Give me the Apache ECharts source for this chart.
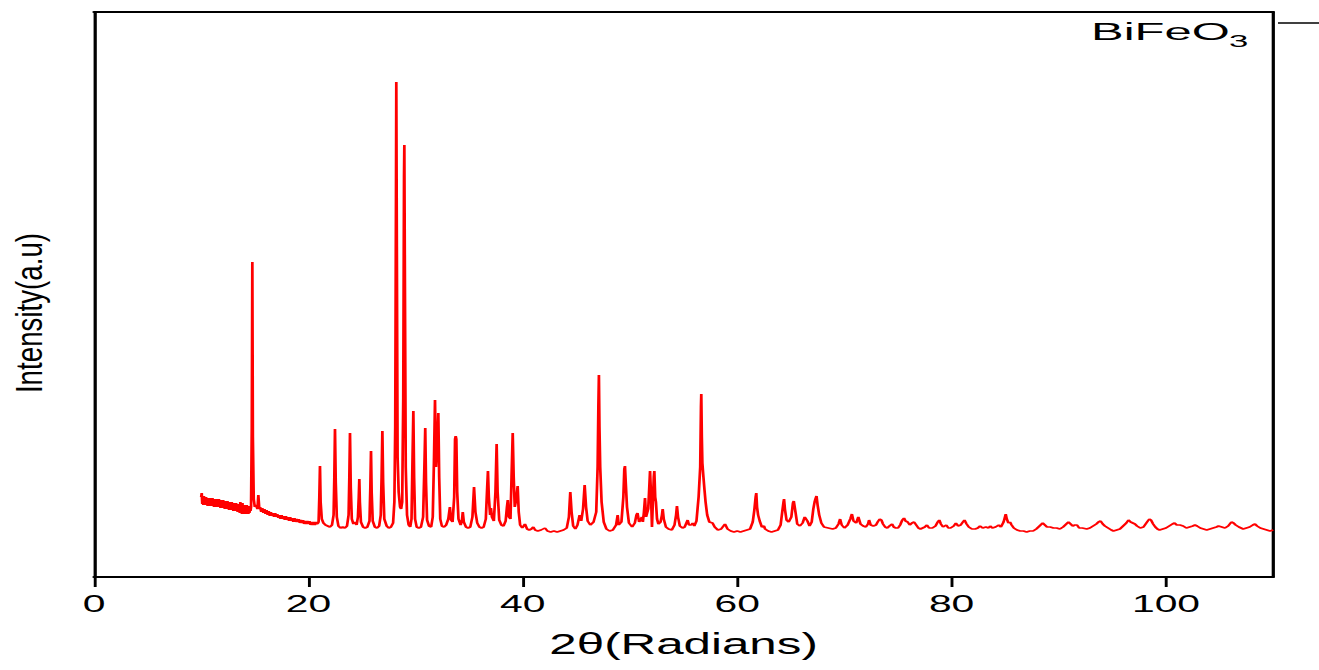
<!DOCTYPE html>
<html>
<head>
<meta charset="utf-8">
<script src="https://cdn.jsdelivr.net/npm/echarts@6/dist/echarts.min.js"></script>
<style>
html,body{margin:0;padding:0;background:#fff;overflow:hidden;}
#wrap{width:1319px;height:670px;overflow:hidden;position:relative;}
#chart{position:absolute;left:0;top:0;height:670px;transform-origin:0 0;}
</style>
</head>
<body>
<div id="wrap"><div id="chart"></div></div>
<script>
// ---- data ----
const seriesName = 'BiFeO3';
const legendMain = 'BiFeO';
const legendSub = '3';
const xAxisTitle = '2\u03b8(Radians)';
const yAxisTitle = 'Intensity(a.u)';
const xTickValues = [0, 20, 40, 60, 80, 100];
const xRange = [0, 110];
const yRange = [0, 565];
// [2theta, intensity (a.u.)]
const xrdPoints = [
[10.00,80],[10.05,84],[10.10,73],[10.15,79],[10.20,72],[10.25,81],[10.30,74],[10.35,78],[10.40,72],[10.45,80],
[10.50,73],[10.55,77],[10.60,71],[10.65,79],[10.70,73],[10.75,77],[10.80,71],[10.85,79],[10.90,72],[10.95,76],
[11.00,71],[11.05,79],[11.10,72],[11.15,75],[11.20,70],[11.25,78],[11.30,71],[11.35,76],[11.40,70],[11.45,78],
[11.50,71],[11.55,75],[11.60,70],[11.65,78],[11.70,71],[11.75,74],[11.80,69],[11.85,77],[11.90,70],[11.95,75],
[12.00,69],[12.05,77],[12.10,70],[12.15,73],[12.20,68],[12.25,76],[12.30,69],[12.35,73],[12.40,68],[12.45,76],
[12.50,69],[12.55,72],[12.60,67],[12.65,75],[12.70,68],[12.75,72],[12.80,67],[12.85,75],[12.90,68],[12.95,71],
[13.00,66],[13.05,74],[13.10,67],[13.15,71],[13.20,66],[13.25,74],[13.30,67],[13.35,70],[13.40,65],[13.45,73],
[13.50,66],[13.55,70],[13.60,64],[13.65,75],[13.70,65],[13.75,72],[13.80,63],[13.85,74],[13.90,64],[13.95,70],
[14.00,63],[14.05,72],[14.10,64],[14.15,69],[14.20,63],[14.25,72],[14.30,64],[14.35,69],[14.40,63],[14.45,71],
[14.50,64],[14.55,69],[14.60,66],
[14.65,70],[14.72,150],[14.77,315],[14.82,140],[14.9,78],[15.0,70],[15.1,72],[15.25,68],[15.33,82],[15.42,68],
[15.5,70],[15.6,65],[15.7,69],[15.8,64],[15.9,68],[16.0,63],[16.1,67],[16.2,62],[16.3,66],[16.4,61],
[16.5,65],[16.6,61],[16.7,64],[16.8,60],[16.9,64],[17.0,60],[17.1,63],[17.2,59],[17.3,62],[17.4,58],
[17.5,62],[17.6,58],[17.7,61],[17.8,57],[17.9,61],[18.0,57],[18.1,60],[18.2,56],[18.3,60],[18.4,56],
[18.5,59],[18.6,55],[18.7,59],[18.8,55],[18.9,58],[19.0,55],[19.1,58],[19.2,54],[19.3,57],[19.4,54],
[19.5,57],[19.6,53],[19.7,56],[19.8,53],[19.9,56],[20.0,53],[20.1,56],[20.2,52],[20.3,55],[20.4,52],
[20.5,55],[20.6,52],[20.7,55],[20.8,53],[20.9,54],
[20.95,55],[21.02,80],[21.08,111],[21.14,75],[21.25,58],[21.4,54],[21.6,52],[21.8,51],[22.0,50],[22.2,52],
[22.35,62],[22.42,100],[22.48,148],[22.55,95],[22.65,60],[22.8,51],[23.0,49],[23.2,50],[23.4,49],[23.6,51],
[23.75,62],[23.82,100],[23.88,144],[23.95,90],[24.05,58],[24.2,53],[24.35,55],[24.5,52],[24.62,60],[24.7,80],
[24.75,98],[24.8,75],[24.9,55],[25.1,50],[25.3,49],[25.5,50],[25.7,56],[25.78,90],[25.84,126],[25.9,85],
[26.0,56],[26.2,50],[26.4,49],[26.6,51],[26.75,62],[26.83,100],[26.9,146],[26.97,95],[27.08,58],[27.3,51],
[27.5,49],[27.7,50],[27.9,54],[28.02,75],[28.1,150],[28.17,380],[28.2,495],[28.25,330],[28.32,120],[28.42,85],
[28.55,70],[28.65,68],[28.75,75],[28.85,180],[28.92,400],[28.95,432],[29.0,300],[29.08,110],[29.2,62],[29.35,52],
[29.5,50],[29.62,58],[29.7,110],[29.79,166],[29.86,100],[29.95,58],[30.1,50],[30.3,49],[30.5,50],[30.7,60],
[30.82,110],[30.9,149],[30.97,95],[31.07,57],[31.25,51],[31.45,50],[31.6,60],[31.72,120],[31.81,177],[31.9,110],
[31.98,110],[32.05,140],[32.12,164],[32.2,100],[32.3,58],[32.45,51],[32.65,50],[32.85,52],[33.05,58],[33.2,70],
[33.3,57],[33.45,55],[33.6,80],[33.68,138],[33.74,141],[33.8,138],[33.88,85],[34.0,58],[34.2,52],[34.32,56],
[34.4,65],[34.5,55],[34.7,50],[34.9,49],[35.1,50],[35.3,60],[35.45,90],[35.58,65],[35.75,54],[35.95,50],
[36.15,49],[36.35,50],[36.55,58],[36.68,90],[36.75,106],[36.83,80],[36.95,62],[37.03,69],[37.12,60],[37.3,56],
[37.45,85],[37.56,133],[37.65,85],[37.8,57],[38.0,52],[38.2,51],[38.4,56],[38.52,70],[38.6,77],[38.7,60],
[38.85,58],[38.95,100],[39.06,144],[39.15,100],[39.25,70],[39.4,78],[39.52,91],[39.62,65],[39.75,52],[39.95,49],
[40.2,53],[40.4,48],[40.6,47],[40.8,48],[40.98,50],[41.15,47],[41.4,46],[41.7,47],[42.07,49],[42.3,46],
[42.6,45],[42.9,46],[43.2,45],[43.5,46],[43.8,47],[44.1,49],[44.3,60],[44.43,85],[44.55,65],[44.7,51],
[44.9,48],[45.1,52],[45.3,62],[45.45,56],[45.62,68],[45.77,92],[45.9,70],[46.05,56],[46.3,52],[46.6,55],
[46.85,65],[46.98,110],[47.05,170],[47.1,202],[47.15,150],[47.22,110],[47.35,75],[47.55,55],[47.8,48],[48.1,46],
[48.4,47],[48.7,52],[48.85,62],[48.95,52],[49.2,55],[49.38,80],[49.47,108],[49.53,111],[49.6,95],[49.72,70],
[49.9,54],[50.2,50],[50.45,54],[50.6,62],[50.7,64],[50.85,55],[51.0,57],[51.1,60],[51.2,55],[51.3,65],
[51.4,79],[51.5,60],[51.7,68],[51.8,90],[51.87,106],[51.95,85],[52.05,50],[52.15,80],[52.22,100],[52.27,106],
[52.35,80],[52.42,75],[52.52,58],[52.65,53],[52.85,55],[52.98,62],[53.05,68],[53.15,58],[53.35,50],[53.6,48],
[53.9,47],[54.15,52],[54.3,62],[54.38,71],[54.48,60],[54.65,51],[54.9,49],[55.1,50],[55.3,55],[55.38,57],
[55.5,52],[55.7,52],[55.85,54],[56.0,51],[56.2,56],[56.4,80],[56.55,110],[56.62,170],[56.65,183],[56.7,140],
[56.75,114],[56.85,100],[56.95,87],[57.05,75],[57.2,62],[57.4,55],[57.7,54],[57.9,50],[58.2,47],[58.5,48],
[58.86,53],[59.1,48],[59.4,46],[59.7,45],[60.0,46],[60.3,45],[60.6,46],[60.9,47],[61.2,48],[61.45,55],
[61.6,67],[61.72,80],[61.78,84],[61.85,70],[61.95,62],[62.1,56],[62.3,50],[62.5,51],[62.6,48],[62.9,46],
[63.2,45],[63.5,46],[63.8,47],[64.05,52],[64.2,65],[64.32,75],[64.37,78],[64.45,68],[64.6,57],[64.8,55],
[65.05,60],[65.2,74],[65.28,76],[65.36,76],[65.45,64],[65.6,53],[65.85,51],[66.1,54],[66.3,60],[66.4,60],
[66.55,56],[66.75,51],[66.95,55],[67.1,68],[67.22,75],[67.3,78],[67.4,81],[67.5,72],[67.65,62],[67.85,54],
[68.1,50],[68.5,49],[68.9,48],[69.2,49],[69.45,53],[69.6,58],[69.75,52],[70.0,49],[70.3,52],[70.55,58],
[70.7,63],[70.85,56],[71.1,54],[71.3,60],[71.5,53],[71.75,51],[72.0,50],[72.2,53],[72.3,57],[72.45,52],
[72.7,51],[72.95,52],[73.1,55],[73.3,58],[73.45,57],[73.6,53],[73.8,50],[74.0,49],[74.2,51],[74.45,53],
[74.6,50],[74.8,49],[75.0,49],[75.2,52],[75.4,57],[75.56,59],[75.7,56],[75.9,55],[76.1,52],[76.3,54],
[76.5,55],[76.7,52],[76.9,49],[77.1,48],[77.3,49],[77.5,50],[77.7,52],[77.9,49],[78.2,49],[78.5,51],
[78.7,55],[78.85,57],[79.0,53],[79.2,50],[79.5,52],[79.7,49],[79.9,49],[80.2,51],[80.4,54],[80.6,51],
[80.85,52],[81.05,55],[81.2,57],[81.4,53],[81.6,50],[81.9,48],[82.2,48],[82.45,49],[82.65,51],[82.9,49],
[83.2,50],[83.45,49],[83.6,51],[83.8,49],[84.1,50],[84.4,52],[84.6,50],[84.85,55],[85.0,61],[85.05,63],
[85.15,58],[85.3,54],[85.45,55],[85.6,52],[85.8,49],[86.1,47],[86.4,46],[86.7,46],[87.0,45],[87.3,46],
[87.6,46],[87.9,48],[88.2,51],[88.5,54],[88.7,52],[88.9,50],[89.2,50],[89.5,49],[89.8,49],[90.1,48],
[90.4,50],[90.7,53],[90.9,55],[91.1,53],[91.3,51],[91.5,52],[91.7,52],[91.9,49],[92.2,49],[92.6,48],
[92.9,49],[93.2,51],[93.5,53],[93.7,55],[93.9,56],[94.1,53],[94.3,51],[94.6,49],[94.9,47],[95.1,46],
[95.4,47],[95.7,48],[96.0,51],[96.3,54],[96.5,57],[96.7,55],[96.9,54],[97.1,53],[97.3,51],[97.6,49],
[97.9,50],[98.1,53],[98.3,56],[98.45,58],[98.6,57],[98.8,53],[99.0,50],[99.2,48],[99.4,47],[99.7,48],
[100.0,49],[100.3,51],[100.6,53],[100.8,54],[101.0,52],[101.3,52],[101.6,51],[101.9,49],[102.2,50],[102.5,51],
[102.7,52],[102.9,51],[103.2,49],[103.5,48],[103.8,47],[104.1,48],[104.4,49],[104.7,50],[104.9,51],[105.2,50],
[105.5,49],[105.8,51],[106.1,55],[106.3,54],[106.5,52],[106.8,50],[107.0,49],[107.2,48],[107.5,49],[107.8,50],
[108.1,52],[108.3,53],[108.5,51],[108.8,49],[109.1,48],[109.4,47],[109.7,46],[110.0,47]
];

// ---- layout: the reference is horizontally stretched, so draw narrower and stretch ----
const SX = 1.7;
const W = 1319 / SX;
const el = document.getElementById('chart');
el.style.width = W + 'px';
el.style.transform = 'scaleX(' + SX + ')';

const chart = echarts.init(el, null, {renderer: 'svg'});
const FONT = '"Liberation Sans", Arial, sans-serif';
const gridLeft = 94 / SX, gridRight = (1319 - 1273) / SX;

chart.setOption({
  animation: false,
  backgroundColor: '#fff',
  grid: {left: gridLeft, right: gridRight, top: 12, bottom: 670 - 577, containLabel: false},
  xAxis: [{
    type: 'value', min: xRange[0], max: xRange[1], interval: 20,
    axisLine: {show: true, onZero: false, lineStyle: {color: '#000', width: 2}},
    axisTick: {show: true, inside: false, length: 10, lineStyle: {color: '#000', width: 1.7},
      customValues: xTickValues},
    axisLabel: {show: true, color: '#000', fontSize: 24, fontFamily: FONT, margin: 15,
      customValues: xTickValues},
    splitLine: {show: false},
    name: xAxisTitle, nameLocation: 'middle', nameGap: 52,
    nameTextStyle: {color: '#000', fontSize: 29, fontFamily: FONT}
  }, {
    type: 'value', position: 'top', min: xRange[0], max: xRange[1],
    axisLine: {show: true, onZero: false, lineStyle: {color: '#000', width: 2}},
    axisTick: {show: false}, axisLabel: {show: false}, splitLine: {show: false}
  }],
  yAxis: [{
    type: 'value', min: yRange[0], max: yRange[1],
    axisLine: {show: true, onZero: false, lineStyle: {color: '#000', width: 1.9}},
    axisTick: {show: false}, axisLabel: {show: false}, splitLine: {show: false}
  }, {
    type: 'value', position: 'right', min: yRange[0], max: yRange[1],
    axisLine: {show: true, onZero: false, lineStyle: {color: '#000', width: 1.9}},
    axisTick: {show: false}, axisLabel: {show: false}, splitLine: {show: false}
  }],
  series: [{
    name: seriesName, type: 'line', data: xrdPoints, showSymbol: false, symbol: 'none',
    sampling: null, smooth: false,
    lineStyle: {color: '#ff0000', width: 1.6}, z: 3
  }],
  graphic: [
    {type: 'text', x: 17, y: 313, rotation: Math.PI / 2, scaleX: 1.26,
      style: {text: yAxisTitle, fill: '#000', font: '22px ' + FONT, align: 'center', verticalAlign: 'middle'}},
    {type: 'text', x: 1091 / SX, y: 31.5, scaleX: 1.2,
      style: {text: legendMain, fill: '#000', font: '24px ' + FONT, align: 'left', verticalAlign: 'middle'}},
    {type: 'text', x: 1229 / SX, y: 41.5, scaleX: 1.2,
      style: {text: legendSub, fill: '#000', font: '17px ' + FONT, align: 'left', verticalAlign: 'middle'}},
    {type: 'line', shape: {x1: 1278 / SX, y1: 23, x2: 1319 / SX, y2: 23},
      style: {stroke: '#000', lineWidth: 1.5}}
  ]
});
</script>
</body>
</html>
